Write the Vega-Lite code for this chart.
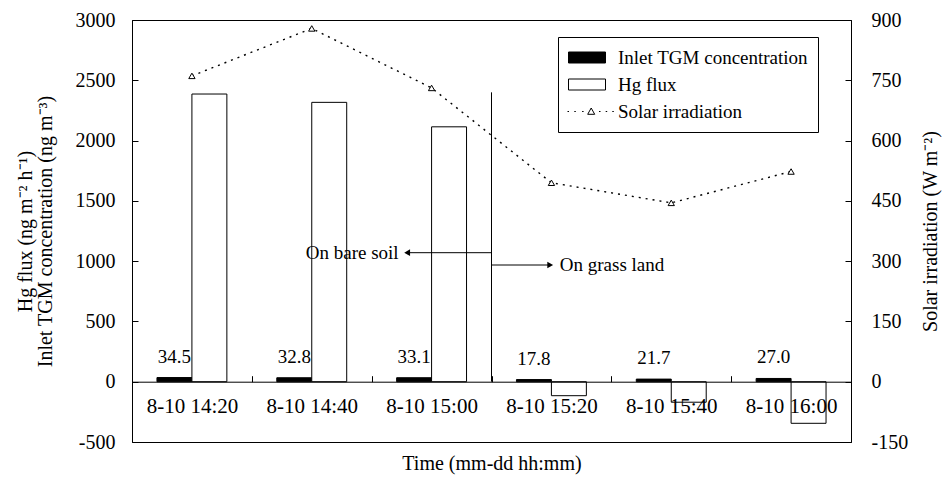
{
  "$schema": "https://vega.github.io/schema/vega-lite/v6.json",
  "width": 719,
  "height": 422,
  "autosize": "none",
  "padding": {"left": 132, "top": 20, "right": 94, "bottom": 35},
  "config": {
    "font": "Liberation Serif",
    "view": {"stroke": "black", "strokeWidth": 1},
    "axis": {"grid": false, "domainColor": "black", "tickColor": "black", "labelColor": "black", "titleColor": "black", "labelFont": "Liberation Serif", "titleFont": "Liberation Serif", "titleFontWeight": "normal", "labelFontSize": 20, "titleFontSize": 20},
    "text": {"font": "Liberation Serif", "color": "black"}
  },
  "datasets": {
    "bars": [
      {"t": "8-10 14:20", "series": "Inlet TGM concentration", "value": 34.5},
      {"t": "8-10 14:20", "series": "Hg flux", "value": 2386},
      {"t": "8-10 14:40", "series": "Inlet TGM concentration", "value": 32.8},
      {"t": "8-10 14:40", "series": "Hg flux", "value": 2317},
      {"t": "8-10 15:00", "series": "Inlet TGM concentration", "value": 33.1},
      {"t": "8-10 15:00", "series": "Hg flux", "value": 2114},
      {"t": "8-10 15:20", "series": "Inlet TGM concentration", "value": 17.8},
      {"t": "8-10 15:20", "series": "Hg flux", "value": -116},
      {"t": "8-10 15:40", "series": "Inlet TGM concentration", "value": 21.7},
      {"t": "8-10 15:40", "series": "Hg flux", "value": -170},
      {"t": "8-10 16:00", "series": "Inlet TGM concentration", "value": 27.0},
      {"t": "8-10 16:00", "series": "Hg flux", "value": -345}
    ],
    "solar": [
      {"t": "8-10 14:20", "solar": 761},
      {"t": "8-10 14:40", "solar": 879},
      {"t": "8-10 15:00", "solar": 731},
      {"t": "8-10 15:20", "solar": 495},
      {"t": "8-10 15:40", "solar": 445},
      {"t": "8-10 16:00", "solar": 523}
    ]
  },
  "layer": [
    {
      "layer": [
        {
          "data": {"name": "bars"},
          "mark": {"type": "bar", "stroke": "black", "strokeWidth": 1},
          "encoding": {
            "x": {"field": "t", "type": "nominal", "scale": {"paddingInner": 0, "paddingOuter": 0},
              "axis": {"title": "Time (mm-dd hh:mm)", "offset": -60.3, "labelAngle": 0, "labelFontSize": 21, "tickBand": "extent", "tickSize": -6, "labelPadding": 20, "titlePadding": 37, "zindex": 1}},
            "xOffset": {"field": "series", "type": "nominal", "scale": {"domain": ["Inlet TGM concentration", "Hg flux"], "paddingInner": 0, "paddingOuter": 0.714}},
            "y": {"field": "value", "type": "quantitative", "scale": {"domain": [-500, 3000], "nice": false, "zero": false},
              "axis": {"values": [-500, 0, 500, 1000, 1500, 2000, 2500, 3000], "labelExpr": "datum.value < 0 ? '-' + format(-datum.value, 'd') : format(datum.value, 'd')", "tickSize": -6, "labelPadding": 23, "title": ["Hg flux (ng m⁻² h⁻¹)", "Inlet TGM concentration (ng m⁻³)"], "titlePadding": 20, "titleLineHeight": 20}},
            "fill": {"field": "series", "type": "nominal",
              "scale": {"domain": ["Inlet TGM concentration", "Hg flux", "Solar irradiation"], "range": ["black", "white", "white"]},
              "legend": {"orient": "none", "legendX": 426, "legendY": 17, "title": null, "strokeColor": "black", "fillColor": "white", "padding": 10, "labelFontSize": 19, "labelFont": "Liberation Serif", "labelColor": "black", "labelLimit": 400, "symbolSize": 400, "symbolStrokeColor": "black", "symbolStrokeWidth": 1, "labelOffset": 29, "rowPadding": 6, "direction": "vertical",
                "encode": {"symbols": {"update": {"shape": {"signal": "datum.value === 'Solar irradiation' ? 'M-1.1,0h0.15M-0.42,0h0.15M0.36,0h0.15M2.05,0h0.15M2.72,0h0.15M3.38,0h0.15M1.27,-0.35L1.62,0.28L0.92,0.28Z' : 'M-1,-0.55H2.7V0.55H-1Z'"}}}}}}
          }
        },
        {
          "data": {"name": "bars"},
          "transform": [{"filter": "datum.series === 'Inlet TGM concentration'"}],
          "mark": {"type": "text", "fontSize": 19, "dy": -15, "baseline": "alphabetic"},
          "encoding": {
            "x": {"field": "t", "type": "nominal"},
            "xOffset": {"field": "series", "type": "nominal", "scale": {"domain": ["Inlet TGM concentration", "Hg flux"], "paddingInner": 0, "paddingOuter": 0.714}},
            "y": {"field": "value", "type": "quantitative"},
            "text": {"field": "value", "type": "quantitative", "format": ".1f"}
          }
        },
        {
          "data": {"values": [{}]},
          "mark": {"type": "rule", "color": "black", "strokeWidth": 1},
          "encoding": {
            "x": {"datum": "8-10 15:20", "type": "nominal", "bandPosition": 0},
            "y": {"datum": 2400, "type": "quantitative"},
            "y2": {"datum": 0}
          }
        },
        {
          "data": {"values": [{}]},
          "mark": {"type": "rule", "color": "black", "strokeWidth": 1},
          "encoding": {
            "x": {"datum": "8-10 15:00", "type": "nominal", "bandPosition": 0.3},
            "x2": {"datum": "8-10 15:00", "bandPosition": 1},
            "y": {"datum": 1070, "type": "quantitative"}
          }
        },
        {
          "data": {"values": [{}]},
          "mark": {"type": "rule", "color": "black", "strokeWidth": 1},
          "encoding": {
            "x": {"datum": "8-10 15:20", "type": "nominal", "bandPosition": 0},
            "x2": {"datum": "8-10 15:20", "bandPosition": 0.49},
            "y": {"datum": 968, "type": "quantitative"}
          }
        },
        {
          "data": {"values": [{}]},
          "mark": {"type": "point", "shape": "triangle-left", "filled": true, "color": "black", "size": 45, "opacity": 1},
          "encoding": {
            "x": {"datum": "8-10 15:00", "type": "nominal", "bandPosition": 0.296},
            "y": {"datum": 1070, "type": "quantitative"}
          }
        },
        {
          "data": {"values": [{}]},
          "mark": {"type": "point", "shape": "triangle-right", "filled": true, "color": "black", "size": 45, "opacity": 1},
          "encoding": {
            "x": {"datum": "8-10 15:20", "type": "nominal", "bandPosition": 0.49},
            "y": {"datum": 968, "type": "quantitative"}
          }
        },
        {
          "data": {"values": [{}]},
          "mark": {"type": "text", "align": "right", "baseline": "middle", "fontSize": 19},
          "encoding": {
            "x": {"datum": "8-10 15:00", "type": "nominal", "bandPosition": 0.225},
            "y": {"datum": 1070, "type": "quantitative"},
            "text": {"value": "On bare soil"}
          }
        },
        {
          "data": {"values": [{}]},
          "mark": {"type": "text", "align": "left", "baseline": "middle", "fontSize": 19},
          "encoding": {
            "x": {"datum": "8-10 15:20", "type": "nominal", "bandPosition": 0.57},
            "y": {"datum": 968, "type": "quantitative"},
            "text": {"value": "On grass land"}
          }
        }
      ]
    },
    {
      "data": {"name": "solar"},
      "layer": [
        {
          "mark": {"type": "line", "color": "black", "strokeWidth": 1.4, "strokeDash": [2, 5]},
          "encoding": {
            "x": {"field": "t", "type": "nominal"},
            "y": {"field": "solar", "type": "quantitative", "scale": {"domain": [-150, 900], "nice": false, "zero": false},
              "axis": {"orient": "right", "values": [-150, 0, 150, 300, 450, 600, 750, 900], "labelExpr": "datum.value < 0 ? '-' + format(-datum.value, 'd') : format(datum.value, 'd')", "tickSize": -6, "labelPadding": 26, "title": "Solar irradiation (W m⁻²)", "titleAngle": -90, "titlePadding": 33}}
          }
        },
        {
          "mark": {"type": "point", "shape": "triangle-up", "filled": true, "fill": "white", "stroke": "black", "strokeWidth": 1, "size": 40, "opacity": 1},
          "encoding": {
            "x": {"field": "t", "type": "nominal"},
            "y": {"field": "solar", "type": "quantitative"}
          }
        }
      ]
    }
  ],
  "resolve": {"scale": {"y": "independent"}}
}
